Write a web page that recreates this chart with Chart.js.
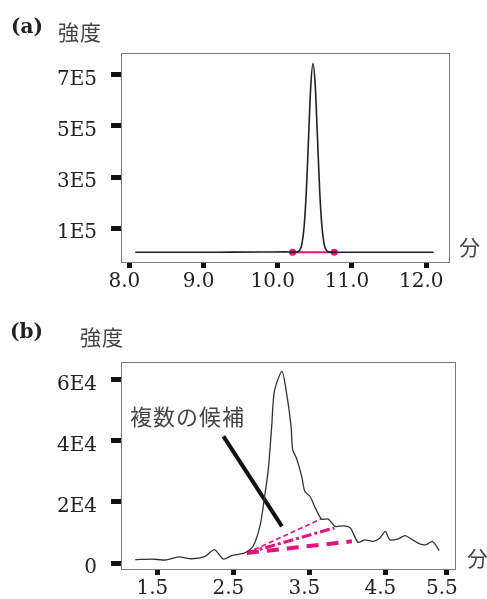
<!DOCTYPE html>
<html>
<head>
<meta charset="utf-8">
<script src="https://cdn.jsdelivr.net/npm/chart.js@4"></script>
<style>
  body { margin: 0; background: #fff; }
  canvas { display: block; }
</style>
</head>
<body>
<canvas id="chartA" width="487" height="300"></canvas>
<canvas id="chartB" width="487" height="299"></canvas>
<script>
// (a) single clean peak
const timeA = [8.08, 8.6, 9.2, 9.8, 10.1, 10.2, 10.255, 10.295, 10.325, 10.355, 10.385, 10.415, 10.445, 10.475,
  10.505, 10.535, 10.565, 10.595, 10.625, 10.655, 10.695, 10.76, 11.2, 11.8, 12.1];
const intensityA = [5000, 5000, 5500, 6000, 6500, 5500, 5800, 13000, 37000, 105000, 245000, 454000, 658000, 745000,
  658000, 454000, 245000, 105000, 37000, 13000, 5800, 5200, 5000, 5000, 5000];
const markTimeA = [10.20, 10.76];
const markIntensityA = [5000, 5000];
const xTicksA = [8, 9, 10, 11, 12];
const xTickLabelsA = ["8.0", "9.0", "10.0", "11.0", "12.0"];
const yTicksA = [100000, 300000, 500000, 700000];
const yTickLabelsA = ["1E5", "3E5", "5E5", "7E5"];

// (b) noisy peak with several baseline candidates
const timeB = [1.21, 1.43, 1.62, 1.78, 1.95, 2.13, 2.25, 2.37, 2.48, 2.65, 2.76, 2.85, 2.90, 2.96, 3.005, 3.04,
  3.14, 3.20, 3.26, 3.28, 3.33, 3.40, 3.44, 3.51, 3.58, 3.66, 3.75, 3.84, 3.95, 4.04, 4.14, 4.23, 4.34, 4.43,
  4.50, 4.56, 4.67, 4.76, 4.87, 4.96, 5.04, 5.12, 5.21];
const intensityB = [1100, 1300, 1000, 2000, 1400, 2200, 4400, 1300, 2400, 3300, 5500, 12000, 19700, 30600, 44800, 56300,
  62800, 55800, 44800, 37200, 34400, 28400, 23500, 21800, 18000, 14400, 14400, 12000, 12200, 11500, 6800, 7600, 7100, 8200,
  10400, 7600, 7900, 9000, 7400, 6200, 6000, 7100, 4100];
const candidateStart = [2.68, 3300];
const candidateEnds = [[3.66, 14500], [3.83, 11500], [4.06, 7100]];
const pointerLine = [[2.37, 41500], [3.14, 12000]];
const xTicksB = [1.5, 2.5, 3.5, 4.5, 5.31];
const xTickLabelsB = ["1.5", "2.5", "3.5", "4.5", "5.5"];
const yTicksB = [0, 20000, 40000, 60000];
const yTickLabelsB = ["0", "2E4", "4E4", "6E4"];

const MAGENTA = "#e5137f";
const tickFont = { family: "'DejaVu Serif', serif", size: 20 };
const cjkFont = "'Noto Sans CJK JP', sans-serif";

function pts(xs, ys) {
  return xs.map((x, i) => ({ x: x, y: ys[i] }));
}

function axes(xr, yr, xTicks, xLabels, yTicks, yLabels, xHeight) {
  return {
    x: {
      type: "linear", min: xr[0], max: xr[1],
      afterBuildTicks: s => { s.ticks = xTicks.map(v => ({ value: v })); },
      afterFit: s => { s.height = xHeight; },
      grid: { drawOnChartArea: false, tickLength: 6, tickWidth: 5, tickColor: "#111" },
      border: { display: false },
      ticks: { autoSkip: false, maxRotation: 0, padding: 2, labelOffset: -5, color: "#222", font: tickFont,
        callback: (v, i) => xLabels[i] }
    },
    y: {
      min: yr[0], max: yr[1],
      afterBuildTicks: s => { s.ticks = yTicks.map(v => ({ value: v })); },
      afterFit: s => { s.width = 121; },
      grid: { drawOnChartArea: false, tickLength: 10, tickWidth: 5, tickColor: "#111" },
      border: { display: false },
      ticks: { autoSkip: false, padding: 14, labelOffset: 5, color: "#222", font: tickFont,
        callback: (v, i) => yLabels[i] }
    }
  };
}

function decorations(panel, xUnitPos, yUnitPos, labelPos, note) {
  return {
    id: "decor" + panel,
    afterDatasetsDraw(chart) {
      const ctx = chart.ctx, a = chart.chartArea;
      ctx.save();
      ctx.strokeStyle = "#7a7a7a";
      ctx.lineWidth = 1;
      ctx.strokeRect(Math.round(a.left) + 0.5, Math.round(a.top) + 0.5,
        Math.round(a.right - a.left), Math.round(a.bottom - a.top));
      ctx.textBaseline = "middle";
      ctx.fillStyle = "#222";
      ctx.font = "bold 20px 'DejaVu Serif', serif";
      ctx.fillText("(" + panel + ")", labelPos[0], labelPos[1]);
      ctx.fillStyle = "#444";
      ctx.font = "21px " + cjkFont;
      ctx.letterSpacing = "1px";
      ctx.fillText("強度", yUnitPos[0], yUnitPos[1]);
      ctx.fillText("分", xUnitPos[0], xUnitPos[1]);
      if (note) {
        ctx.font = "22px " + cjkFont;
        ctx.fillText(note.text, chart.scales.x.getPixelForValue(note.at[0]), chart.scales.y.getPixelForValue(note.at[1]));
      }
      ctx.restore();
    }
  };
}

new Chart(document.getElementById("chartA"), {
  type: "line",
  data: {
    datasets: [
      { data: pts(timeA, intensityA), borderColor: "#222", borderWidth: 1.6, pointRadius: 0,
        cubicInterpolationMode: "monotone" },
      { data: pts(markTimeA, markIntensityA), borderColor: MAGENTA, backgroundColor: MAGENTA,
        borderWidth: 2, pointRadius: 3.5, pointBorderWidth: 0 }
    ]
  },
  options: {
    responsive: false, animation: false,
    layout: { padding: { top: 53, right: 38, left: 0, bottom: 0 } },
    plugins: { legend: { display: false }, tooltip: { enabled: false } },
    scales: axes([7.888, 12.307], [-33000, 786000], xTicksA, xTickLabelsA, yTicksA, yTickLabelsA, 38)
  },
  plugins: [decorations("a", [459, 247], [58, 32], [11, 28], null)]
});

const candidateStyles = [
  { width: 1.6, dash: [5, 3] },
  { width: 3, dash: [10, 3, 3, 3] },
  { width: 4, dash: [12, 8] }
];

new Chart(document.getElementById("chartB"), {
  type: "line",
  data: {
    datasets: [
      { data: pts(timeB, intensityB), borderColor: "#333", borderWidth: 1.3, pointRadius: 0, tension: 0.25 },
      ...candidateEnds.map((end, i) => ({
        data: pts([candidateStart[0], end[0]], [candidateStart[1], end[1]]),
        borderColor: MAGENTA, borderWidth: candidateStyles[i].width, borderDash: candidateStyles[i].dash,
        pointRadius: 0
      })),
      { data: pts(pointerLine.map(p => p[0]), pointerLine.map(p => p[1])), borderColor: "#111",
        borderWidth: 4, pointRadius: 0 }
    ]
  },
  options: {
    responsive: false, animation: false,
    layout: { padding: { top: 62, right: 32, left: 0, bottom: 0 } },
    plugins: { legend: { display: false }, tooltip: { enabled: false } },
    scales: axes([1.022, 5.417], [-1967, 65900], xTicksB, xTickLabelsB, yTicksB, yTickLabelsB, 30)
  },
  plugins: [decorations("b", [467, 258], [80, 37], [10, 33], { text: "複数の候補", at: [1.14, 48100] })]
});
</script>
</body>
</html>
